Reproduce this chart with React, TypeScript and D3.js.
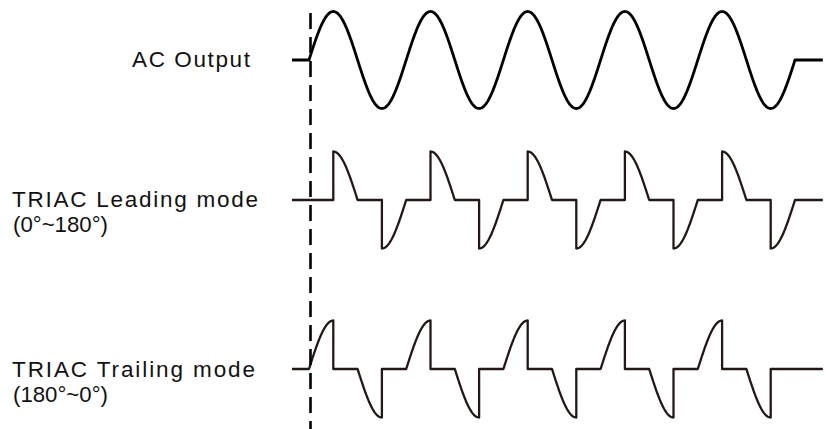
import React from 'react';
import * as d3 from 'd3';

// rows of the timing diagram
const labels = ['AC Output', 'TRIAC Leading mode', 'TRIAC Trailing mode'];
const subLabels = ['', '(0°~180°)', '(180°~0°)'];
const modes = ['full', 'leading', 'trailing'];
const labelWidths = [118, 246, 243];
const subLabelWidths = [0, 95, 95];

// phase settings (degrees)
const cycles = 5;
const firingAngle = 90;
const leadIn = -63;
const tail = 1903;

const W = 826;
const H = 429;

const rowBase = [60, 200, 369];
const amp = 48.5;

const x = d3.scaleLinear().domain([0, cycles * 360]).range([309, 795]);

const rad = (deg: number) => (deg * Math.PI) / 180;

function wavePoints(mode: string): [number, number][] {
  const pts: [number, number][] = [[leadIn, 0], [0, 0]];
  const step = 2;
  for (let k = 0; k < cycles * 2; k++) {
    const s = k * 180;
    if (mode === 'full') {
      for (let a = 0; a <= 180; a += step) pts.push([s + a, Math.sin(rad(s + a))]);
    } else if (mode === 'leading') {
      pts.push([s + firingAngle, 0]);
      for (let a = firingAngle; a <= 180; a += step) pts.push([s + a, Math.sin(rad(s + a))]);
      pts.push([s + 180, 0]);
    } else {
      for (let a = 0; a <= firingAngle; a += step) pts.push([s + a, Math.sin(rad(s + a))]);
      pts.push([s + firingAngle, 0]);
      pts.push([s + 180, 0]);
    }
  }
  pts.push([tail, 0]);
  return pts;
}

export default function App() {
  return (
    <svg
      width={W}
      height={H}
      style={{ position: 'absolute', left: 0, top: 0, background: '#fff' }}
    >
      {modes.map((m, i) => {
        const y = d3.scaleLinear().domain([-1, 1]).range([rowBase[i] + amp, rowBase[i] - amp]);
        const line = d3
          .line<[number, number]>()
          .x((d) => x(d[0]))
          .y((d) => y(d[1]));
        return (
          <path
            key={m}
            d={line(wavePoints(m)) || ''}
            fill="none"
            stroke={i === 0 ? '#000' : '#231815'}
            strokeWidth={i === 0 ? 2.8 : 2.3}
            strokeLinejoin="round"
          />
        );
      })}

      <line
        x1={x(0) + 1.5}
        x2={x(0) + 1.5}
        y1={13}
        y2={H}
        stroke="#000"
        strokeWidth={2.6}
        strokeDasharray="16,8"
      />

      <g fontFamily="'Liberation Sans', Arial, sans-serif" fontSize={22.5} fill="#111">
        <text x={132} y={67} textLength={labelWidths[0]} lengthAdjust="spacing">
          {labels[0]}
        </text>
        <text x={12} y={207} textLength={labelWidths[1]} lengthAdjust="spacing">
          {labels[1]}
        </text>
        <text x={13} y={232} textLength={subLabelWidths[1]} lengthAdjust="spacingAndGlyphs">
          {subLabels[1]}
        </text>
        <text x={12} y={377} textLength={labelWidths[2]} lengthAdjust="spacing">
          {labels[2]}
        </text>
        <text x={13} y={402} textLength={subLabelWidths[2]} lengthAdjust="spacingAndGlyphs">
          {subLabels[2]}
        </text>
      </g>
    </svg>
  );
}
